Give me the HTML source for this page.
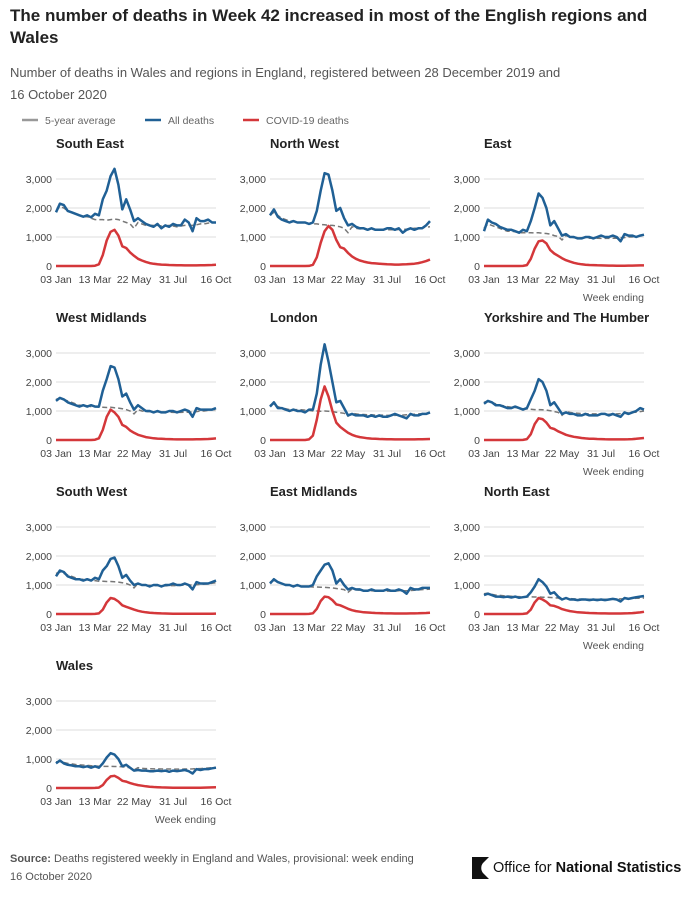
<!DOCTYPE html>
<html><head><meta charset="utf-8"><style>
html,body{margin:0;padding:0;background:#fff;width:692px;height:900px;overflow:hidden}
svg{display:block}
text{font-family:"Liberation Sans",sans-serif}
</style></head><body>
<svg id="chart" width="692" height="900">
<text x="10" y="21" font-size="17" font-weight="bold" fill="#222">The number of deaths in Week 42 increased in most of the English regions and</text>
<text x="10" y="43" font-size="17" font-weight="bold" fill="#222">Wales</text>
<text x="10" y="77" font-size="13" fill="#555">Number of deaths in Wales and regions in England, registered between 28 December 2019 and</text>
<text x="10" y="99" font-size="13" fill="#555">16 October 2020</text>
<g>
<line x1="22" y1="120" x2="38" y2="120" stroke="#999" stroke-width="2.5"/>
<text x="45" y="124" font-size="10.5" fill="#666">5-year average</text>
<line x1="145" y1="120" x2="161" y2="120" stroke="#206095" stroke-width="2.5"/>
<text x="168" y="124" font-size="10.5" fill="#666">All deaths</text>
<line x1="243" y1="120" x2="259" y2="120" stroke="#d4373a" stroke-width="2.5"/>
<text x="266" y="124" font-size="10.5" fill="#666">COVID-19 deaths</text>
</g>
<g id="panels"></g>
<text x="10" y="862" font-size="11" fill="#555"><tspan font-weight="bold">Source:</tspan> Deaths registered weekly in England and Wales, provisional: week ending</text>
<text x="10" y="880" font-size="11" fill="#555">16 October 2020</text>
<g>
<path d="M472 857 h17 l-6 6 a8 8 0 0 0 0 10 l6 6 h-17 z" fill="#111"/>
<text x="493" y="872" font-size="14.5" fill="#111">Office for <tspan font-weight="bold">National Statistics</tspan></text>
</g>
</svg>
<script>
const regions=["South East","North West","East","West Midlands","London","Yorkshire and The Humber","South West","East Midlands","North East","Wales"];
const xTickLabels=["03 Jan","13 Mar","22 May","31 Jul","16 Oct"];
const xTickWeeks=[0,10,20,30,41];
const yTicks=[0,1000,2000,3000];
const yTickLabels=["0","1,000","2,000","3,000"];
const allDeaths=[
[1850,2150,2100,1900,1850,1800,1750,1700,1750,1680,1800,1750,2300,2600,3100,3350,2800,1950,2300,1950,1550,1650,1550,1450,1400,1350,1450,1300,1400,1350,1450,1400,1400,1600,1500,1200,1650,1550,1550,1600,1500,1500],
[1750,1950,1700,1600,1550,1500,1550,1500,1500,1500,1450,1500,1900,2600,3200,3150,2600,1900,2000,1650,1400,1450,1350,1300,1300,1250,1300,1250,1250,1250,1300,1300,1250,1300,1150,1250,1300,1250,1300,1300,1400,1550],
[1200,1600,1500,1450,1350,1300,1250,1250,1200,1150,1250,1200,1550,2000,2500,2350,2000,1400,1550,1300,1050,1100,1000,1000,950,950,1000,1000,950,1000,1050,1000,1000,1050,1000,850,1100,1050,1050,1000,1050,1080],
[1350,1450,1400,1300,1250,1200,1150,1200,1150,1200,1150,1150,1700,2100,2550,2500,2100,1500,1600,1300,1050,1200,1100,1000,1000,950,1000,950,950,1000,1000,950,1000,1050,1000,800,1100,1050,1050,1050,1050,1100],
[1150,1300,1100,1100,1050,1000,1050,1000,1000,950,1050,1050,1600,2600,3300,2700,2000,1300,1350,1100,850,900,850,850,850,800,850,800,850,800,800,850,900,850,800,750,900,850,850,900,900,950],
[1250,1350,1300,1200,1200,1150,1100,1100,1150,1100,1050,1100,1400,1700,2100,2000,1700,1200,1300,1100,900,950,900,900,850,850,900,850,850,850,900,900,850,900,850,800,950,900,950,1000,1100,1050],
[1300,1500,1450,1300,1250,1200,1200,1150,1200,1150,1250,1200,1500,1650,1900,1950,1650,1250,1350,1150,1000,1050,1000,1000,950,1000,1000,950,1000,1000,1050,1000,1000,1050,1000,850,1100,1050,1050,1050,1100,1150],
[1050,1200,1100,1050,1000,1000,950,1000,950,950,950,1000,1300,1500,1700,1750,1500,1050,1200,1000,850,900,850,850,800,800,850,800,800,800,850,800,800,850,800,700,900,850,850,900,900,900],
[650,700,650,600,600,580,600,570,600,560,580,600,750,950,1200,1100,950,700,750,600,500,550,500,500,480,500,500,480,500,480,500,480,500,520,500,430,550,520,550,580,600,620],
[850,950,850,800,780,750,750,720,750,700,750,700,850,1050,1200,1150,1000,750,800,700,600,620,600,600,580,580,600,580,600,560,600,580,600,620,580,500,650,620,650,650,680,700]];
const fiveYearAvg=[
[1900,2050,2000,1900,1850,1800,1750,1700,1700,1650,1600,1600,1600,1580,1600,1620,1600,1550,1500,1450,1300,1500,1450,1400,1400,1400,1400,1380,1380,1400,1380,1350,1380,1400,1400,1400,1420,1450,1450,1480,1500,1500],
[1750,1850,1750,1650,1600,1550,1550,1500,1500,1480,1450,1450,1450,1430,1420,1400,1400,1380,1350,1300,1150,1350,1300,1280,1280,1270,1270,1260,1260,1260,1250,1250,1250,1260,1260,1270,1280,1300,1300,1320,1340,1350],
[1300,1450,1400,1350,1300,1250,1200,1200,1180,1150,1150,1150,1150,1140,1150,1130,1120,1100,1050,1020,900,1050,1000,980,980,970,970,960,960,960,950,950,950,960,960,970,980,1000,1000,1020,1040,1050],
[1400,1450,1400,1350,1300,1250,1200,1200,1180,1150,1150,1130,1130,1120,1130,1110,1100,1080,1050,1000,900,1050,1000,980,980,970,970,960,960,960,950,950,950,960,960,970,980,1000,1000,1020,1040,1050],
[1200,1250,1150,1100,1080,1050,1050,1050,1040,1030,1020,1000,1000,990,1000,990,980,960,940,920,820,920,900,880,880,870,870,860,860,860,850,850,850,860,860,870,880,890,900,910,920,930],
[1300,1350,1300,1250,1200,1180,1150,1130,1120,1100,1080,1070,1060,1050,1050,1040,1030,1010,980,950,850,980,950,930,920,910,910,900,900,900,890,890,890,900,900,910,920,940,950,960,980,1000],
[1400,1450,1400,1350,1300,1250,1200,1200,1180,1150,1150,1130,1130,1120,1120,1110,1100,1080,1050,1000,900,1050,1000,990,990,980,980,970,970,980,980,980,990,1000,1000,1000,1010,1020,1030,1040,1060,1080],
[1100,1150,1100,1050,1020,1000,980,970,960,950,940,930,930,920,920,910,900,880,860,840,750,860,830,820,810,800,800,790,790,790,790,790,790,800,800,800,810,820,830,840,850,860],
[700,720,680,650,640,630,620,610,600,600,590,590,590,585,585,580,580,570,560,550,490,550,530,520,520,515,515,510,510,510,510,510,510,515,515,520,525,530,535,540,545,550],
[900,920,880,850,830,810,800,790,780,770,760,750,750,745,745,740,740,730,715,700,620,700,680,670,665,660,660,655,655,655,650,650,650,655,655,660,665,670,680,690,700,710]];
const covidDeaths=[
[0,0,0,0,0,0,0,0,0,0,10,60,380,880,1180,1250,1050,680,620,470,350,250,190,140,100,75,60,50,40,35,30,28,25,22,20,20,22,25,28,30,35,40],
[0,0,0,0,0,0,0,0,0,0,5,40,300,800,1200,1380,1250,900,650,600,450,330,250,190,150,120,100,90,80,70,60,55,50,50,55,60,70,80,100,130,170,220],
[0,0,0,0,0,0,0,0,0,0,5,30,250,600,850,880,780,550,430,350,270,200,150,110,80,60,45,35,30,25,20,18,15,15,12,12,12,15,15,18,20,20],
[0,0,0,0,0,0,0,0,0,0,10,60,350,800,1050,950,800,520,450,330,250,180,140,100,80,60,50,40,35,30,25,22,20,20,20,20,25,25,30,35,45,55],
[0,0,0,0,0,0,0,0,0,0,20,150,700,1400,1850,1500,1000,600,450,350,250,180,130,100,80,60,50,40,35,30,28,25,22,20,20,20,20,22,25,28,32,35],
[0,0,0,0,0,0,0,0,0,0,5,30,200,550,750,720,600,420,380,300,240,180,140,110,90,70,55,45,40,35,30,25,22,20,20,20,22,25,30,40,55,70],
[0,0,0,0,0,0,0,0,0,0,5,20,150,400,550,520,430,300,250,200,150,110,80,60,45,35,28,22,18,15,12,10,10,10,10,10,10,10,10,10,12,14],
[0,0,0,0,0,0,0,0,0,0,5,25,180,450,600,580,480,330,300,240,180,130,100,80,60,50,40,35,30,25,22,20,18,18,18,18,20,22,25,30,35,40],
[0,0,0,0,0,0,0,0,0,0,3,20,150,400,550,500,420,300,280,230,170,130,100,80,60,50,40,35,30,25,22,20,18,18,18,18,20,25,30,40,55,75],
[0,0,0,0,0,0,0,0,0,0,3,15,100,280,400,420,350,250,220,170,130,100,80,60,45,35,28,22,18,15,12,10,10,10,10,10,10,12,14,16,20,25]];

const NS="http://www.w3.org/2000/svg";
const root=document.getElementById('panels');
function mk(tag,attrs,parent){const e=document.createElementNS(NS,tag);for(const k in attrs)e.setAttribute(k,attrs[k]);parent.appendChild(e);return e;}
const colX=[56,270,484], rowY=[143,317,491,665], plotW=160, plotH=87, yMax=3000, nWeeks=42;
regions.forEach((name,i)=>{
  const cx=colX[i%3], ty=rowY[Math.floor(i/3)], y0=ty+123;
  const xs=w=>cx+w/(nWeeks-1)*plotW;
  const ys=v=>y0-v/yMax*plotH;
  const slug=name.toLowerCase().replace(/[^a-z]+/g,'-');
  const g=mk('g',{},root);
  
  
  const t=mk('text',{x:cx,y:ty+5,'font-size':13,'font-weight':'bold',fill:'#222'},g);
  t.textContent=name;
  
  
  yTicks.forEach((v,k)=>{
    if(v>0){const l=mk('line',{x1:cx,x2:cx+plotW,y1:ys(v),y2:ys(v),stroke:'#ddd','stroke-width':1},g);
      
      }
    const lt=mk('text',{x:cx-4,y:ys(v)+4,'font-size':10.5,fill:'#444','text-anchor':'end'},g);
    lt.textContent=yTickLabels[k];
    
    
  });
  xTickWeeks.forEach((w,k)=>{
    const xt=mk('text',{x:xs(w),y:y0+17,'font-size':10.5,fill:'#444','text-anchor':'middle'},g);
    xt.textContent=xTickLabels[k];
    
    
  });
  const path=arr=>arr.map((v,w)=>(w?'L':'M')+xs(w).toFixed(1)+' '+ys(v).toFixed(1)).join(' ');
  const pa=mk('path',{d:path(fiveYearAvg[i]),fill:'none',stroke:'#777','stroke-width':1.5,'stroke-dasharray':'5 3'},g);
  
  
  const pb=mk('path',{d:path(allDeaths[i]),fill:'none',stroke:'#206095','stroke-width':2.5,'stroke-linejoin':'round'},g);
  
  
  const pc=mk('path',{d:path(covidDeaths[i]),fill:'none',stroke:'#d4373a','stroke-width':2.5,'stroke-linejoin':'round'},g);
  
  
  if(i===2||i===5||i===8||i===9){
    const we=mk('text',{x:cx+plotW,y:y0+35,'font-size':10.5,fill:'#555','text-anchor':'end'},g);
    we.textContent='Week ending';
    
    
  }
});
</script>
</body></html>
